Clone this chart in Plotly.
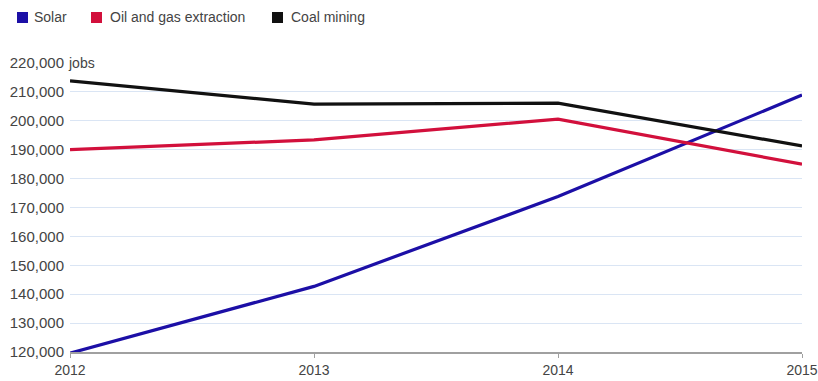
import plotly.graph_objects as go

years = [2012, 2013, 2014, 2015]
solar = [119600, 142700, 173800, 208900]
oil_gas = [190000, 193400, 200600, 185000]
coal = [213800, 205800, 206100, 191300]

series_names = ["Solar", "Oil and gas extraction", "Coal mining"]
series_values = [solar, oil_gas, coal]
series_colors = ["#1c0fa6", "#d2103c", "#111111"]

font_family = "Liberation Sans, Arial, sans-serif"

# plot area in pixels
L, R, T, B = 70, 16, 63, 29
W, H = 818, 381
pw, ph = W - L - R, H - T - B

def px_x(px):
    return (px - L) / pw

def px_y(py):
    return (H - B - py) / ph

fig = go.Figure()
for name, vals, color in zip(series_names, series_values, series_colors):
    fig.add_trace(go.Scatter(x=years, y=vals, mode="lines", name=name,
                             line=dict(color=color, width=3.2), showlegend=False))

# manual legend (square swatches + labels)
legend_square_left = [17, 91, 272]
legend_text_left = [32, 108, 289]
shapes = []
annotations = []
for name, color, sx, tx in zip(series_names, series_colors, legend_square_left, legend_text_left):
    shapes.append(dict(type="rect", xref="paper", yref="paper",
                       x0=px_x(sx), x1=px_x(sx + 11), y0=px_y(23), y1=px_y(12),
                       fillcolor=color, line=dict(width=0)))
    annotations.append(dict(x=px_x(tx), y=px_y(17.5), xref="paper", yref="paper",
                            text=name, showarrow=False, xanchor="left", yanchor="middle",
                            font=dict(size=14, color="#444444")))

annotations.append(dict(x=0, y=220000, xref="paper", yref="y", text="jobs",
                        showarrow=False, xanchor="left", yanchor="middle",
                        xshift=-4, bgcolor="white", borderpad=1,
                        font=dict(size=14, color="#444444")))

tickvals = list(range(120000, 220001, 10000))
fig.update_layout(
    width=W, height=H,
    margin=dict(l=L, r=R, t=T, b=B),
    paper_bgcolor="white", plot_bgcolor="white",
    font=dict(family=font_family, size=15, color="#444444"),
    showlegend=False,
    xaxis=dict(range=[2012, 2015], tickvals=years, ticktext=[str(y) for y in years],
               showgrid=False, showline=True, linecolor="#a0a0a0", linewidth=2,
               ticks="outside", ticklen=4, tickcolor="#a0a0a0", zeroline=False,
               automargin=False,
               tickfont=dict(size=14, color="#444444")),
    yaxis=dict(range=[120000, 220000], tickvals=tickvals,
               ticktext=[f"{v:,}" for v in tickvals],
               showgrid=True, gridcolor="#dae5f4", gridwidth=1,
               zeroline=False, showline=False, ticks="outside", ticklen=2,
               tickcolor="rgba(0,0,0,0)", automargin=False,
               tickfont=dict(size=15, color="#444444")),
    shapes=shapes,
    annotations=annotations,
)

fig.write_html("out.html")
